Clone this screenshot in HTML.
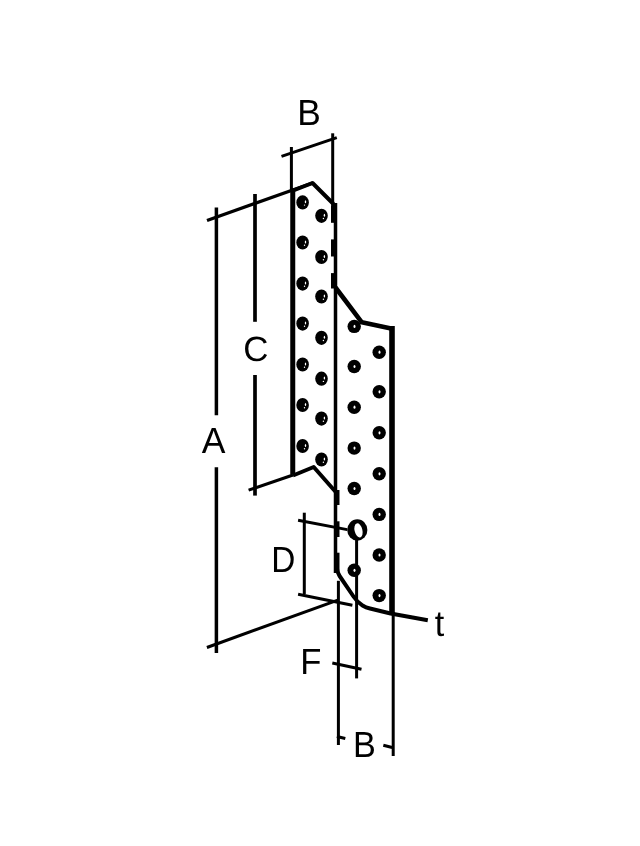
<!DOCTYPE html>
<html><head><meta charset="utf-8"><style>
html,body{margin:0;padding:0;background:#fff;}
svg{display:block;will-change:transform;}
text{font-family:"Liberation Sans",sans-serif;font-size:36.4px;fill:#000;text-rendering:geometricPrecision;}
</style></head><body>
<svg width="640" height="846" viewBox="0 0 640 846">
<rect width="640" height="846" fill="#fff"/>
<g stroke="#000" stroke-linecap="butt">
<line x1="281.5" y1="156.3" x2="336.8" y2="137.7" stroke-width="3"/>
<line x1="291.4" y1="147" x2="291.4" y2="192" stroke-width="3"/>
<line x1="332.7" y1="133.3" x2="332.7" y2="206" stroke-width="3"/>
<line x1="207" y1="220.5" x2="312.5" y2="183" stroke-width="3.3"/>
<line x1="216.4" y1="207.5" x2="216.4" y2="415.2" stroke-width="3.5"/>
<line x1="216.4" y1="467.2" x2="216.4" y2="653" stroke-width="3.5"/>
<line x1="255" y1="194" x2="255" y2="321.8" stroke-width="3.7"/>
<line x1="255" y1="375" x2="255" y2="495.6" stroke-width="3.7"/>
<line x1="248.6" y1="490.2" x2="293" y2="475" stroke-width="3"/>
<line x1="292.75" y1="188" x2="292.75" y2="474.4" stroke-width="5"/>
<polyline points="292,191 312.5,183 333.5,204" fill="none" stroke-width="4" stroke-linejoin="round"/>
<polyline points="293,475.5 313.7,467 335.3,491.5" fill="none" stroke-width="4" stroke-linejoin="round"/>
<line x1="335.5" y1="203" x2="335.5" y2="573" stroke-width="3.5"/>
<line x1="334" y1="205.5" x2="334" y2="222.8" stroke-width="6"/>
<line x1="334" y1="239.4" x2="334" y2="256.5" stroke-width="6"/>
<line x1="334" y1="273.1" x2="334" y2="288.5" stroke-width="6"/>
<line x1="337" y1="490" x2="337" y2="505" stroke-width="5"/>
<line x1="337" y1="521.3" x2="337" y2="537" stroke-width="5"/>
<line x1="337" y1="552.7" x2="337" y2="572.6" stroke-width="5"/>
<polyline points="335.5,287.5 361.8,322.3 393.4,329" fill="none" stroke-width="4.6" stroke-linejoin="round"/>
<line x1="392.0" y1="326" x2="392.0" y2="613" stroke-width="5.6"/>
<line x1="393.2" y1="612" x2="393.2" y2="756" stroke-width="3"/>
<path d="M336.8,560 L336.8,567 Q336.8,572 339.6,576 L353.5,596.5 Q357.5,602.5 362.5,605.5 Q366,607.6 370,608.5 L390.6,613.5 L427.8,620.3" fill="none" stroke-width="4" stroke-linejoin="round"/>
<line x1="304.3" y1="512.7" x2="304.3" y2="594.2" stroke-width="3"/>
<line x1="298.1" y1="520.2" x2="347.2" y2="529.6" stroke-width="3"/>
<line x1="298.1" y1="594.2" x2="352.4" y2="605.2" stroke-width="3"/>
<ellipse cx="357.3" cy="530" rx="10.1" ry="10.7" fill="#000" stroke="none"/><ellipse cx="358.5" cy="530.4" rx="3.9" ry="7.2" transform="rotate(-14 358.5 530.4)" fill="#fff" stroke="none"/>
<line x1="356.6" y1="538" x2="356.6" y2="678.4" stroke-width="3"/>
<line x1="338.4" y1="580.8" x2="338.4" y2="745" stroke-width="3"/>
<line x1="206.9" y1="647.5" x2="338.5" y2="599.8" stroke-width="3"/>
<line x1="332.3" y1="663" x2="361.5" y2="669.2" stroke-width="3"/>
<line x1="336.9" y1="736.5" x2="345.3" y2="738.5" stroke-width="3"/>
<line x1="383.3" y1="745.2" x2="392.2" y2="747.5" stroke-width="3"/>
<ellipse cx="302.6" cy="202.4" rx="6.3" ry="7.1" fill="#000" stroke="none"/>
<ellipse cx="305.5" cy="201.8" rx="0.7" ry="1.5" fill="#fff" stroke="none"/>
<circle cx="304.5" cy="205.1" r="0.7" fill="#fff" stroke="none"/>
<ellipse cx="302.6" cy="242.5" rx="6.3" ry="7.1" fill="#000" stroke="none"/>
<ellipse cx="305.5" cy="241.9" rx="0.7" ry="1.5" fill="#fff" stroke="none"/>
<circle cx="304.5" cy="245.2" r="0.7" fill="#fff" stroke="none"/>
<ellipse cx="302.6" cy="283.6" rx="6.3" ry="7.1" fill="#000" stroke="none"/>
<ellipse cx="305.5" cy="283.0" rx="0.7" ry="1.5" fill="#fff" stroke="none"/>
<circle cx="304.5" cy="286.3" r="0.7" fill="#fff" stroke="none"/>
<ellipse cx="302.6" cy="323.6" rx="6.3" ry="7.1" fill="#000" stroke="none"/>
<ellipse cx="305.5" cy="323.0" rx="0.7" ry="1.5" fill="#fff" stroke="none"/>
<circle cx="304.5" cy="326.3" r="0.7" fill="#fff" stroke="none"/>
<ellipse cx="302.6" cy="364.5" rx="6.3" ry="7.1" fill="#000" stroke="none"/>
<ellipse cx="305.5" cy="363.9" rx="0.7" ry="1.5" fill="#fff" stroke="none"/>
<circle cx="304.5" cy="367.2" r="0.7" fill="#fff" stroke="none"/>
<ellipse cx="302.6" cy="405" rx="6.3" ry="7.1" fill="#000" stroke="none"/>
<ellipse cx="305.5" cy="404.4" rx="0.7" ry="1.5" fill="#fff" stroke="none"/>
<circle cx="304.5" cy="407.7" r="0.7" fill="#fff" stroke="none"/>
<ellipse cx="302.6" cy="446" rx="6.3" ry="7.1" fill="#000" stroke="none"/>
<ellipse cx="305.5" cy="445.4" rx="0.7" ry="1.5" fill="#fff" stroke="none"/>
<circle cx="304.5" cy="448.7" r="0.7" fill="#fff" stroke="none"/>
<ellipse cx="321.5" cy="215.8" rx="6.3" ry="7.1" fill="#000" stroke="none"/>
<ellipse cx="324.4" cy="215.2" rx="0.7" ry="1.5" fill="#fff" stroke="none"/>
<circle cx="323.4" cy="218.5" r="0.7" fill="#fff" stroke="none"/>
<ellipse cx="321.5" cy="257" rx="6.3" ry="7.1" fill="#000" stroke="none"/>
<ellipse cx="324.4" cy="256.4" rx="0.7" ry="1.5" fill="#fff" stroke="none"/>
<circle cx="323.4" cy="259.7" r="0.7" fill="#fff" stroke="none"/>
<ellipse cx="321.5" cy="296.5" rx="6.3" ry="7.1" fill="#000" stroke="none"/>
<ellipse cx="324.4" cy="295.9" rx="0.7" ry="1.5" fill="#fff" stroke="none"/>
<circle cx="323.4" cy="299.2" r="0.7" fill="#fff" stroke="none"/>
<ellipse cx="321.5" cy="337.8" rx="6.3" ry="7.1" fill="#000" stroke="none"/>
<ellipse cx="324.4" cy="337.2" rx="0.7" ry="1.5" fill="#fff" stroke="none"/>
<circle cx="323.4" cy="340.5" r="0.7" fill="#fff" stroke="none"/>
<ellipse cx="321.5" cy="378.7" rx="6.3" ry="7.1" fill="#000" stroke="none"/>
<ellipse cx="324.4" cy="378.1" rx="0.7" ry="1.5" fill="#fff" stroke="none"/>
<circle cx="323.4" cy="381.4" r="0.7" fill="#fff" stroke="none"/>
<ellipse cx="321.5" cy="418.6" rx="6.3" ry="7.1" fill="#000" stroke="none"/>
<ellipse cx="324.4" cy="418.0" rx="0.7" ry="1.5" fill="#fff" stroke="none"/>
<circle cx="323.4" cy="421.3" r="0.7" fill="#fff" stroke="none"/>
<ellipse cx="321.5" cy="459.5" rx="6.3" ry="7.1" fill="#000" stroke="none"/>
<ellipse cx="324.4" cy="458.9" rx="0.7" ry="1.5" fill="#fff" stroke="none"/>
<circle cx="323.4" cy="462.2" r="0.7" fill="#fff" stroke="none"/>
<ellipse cx="354.2" cy="326.4" rx="6.7" ry="6.7" fill="#000" stroke="none"/>
<ellipse cx="354.5" cy="326.4" rx="1" ry="1.6" fill="#fff" stroke="none"/>
<ellipse cx="354.2" cy="366.5" rx="6.7" ry="6.7" fill="#000" stroke="none"/>
<ellipse cx="354.5" cy="366.5" rx="1" ry="1.6" fill="#fff" stroke="none"/>
<ellipse cx="354.2" cy="407.2" rx="6.7" ry="6.7" fill="#000" stroke="none"/>
<ellipse cx="354.5" cy="407.2" rx="1" ry="1.6" fill="#fff" stroke="none"/>
<ellipse cx="354.2" cy="448.1" rx="6.7" ry="6.7" fill="#000" stroke="none"/>
<ellipse cx="354.5" cy="448.1" rx="1" ry="1.6" fill="#fff" stroke="none"/>
<ellipse cx="354.2" cy="488.5" rx="6.7" ry="6.7" fill="#000" stroke="none"/>
<ellipse cx="354.5" cy="488.5" rx="1" ry="1.6" fill="#fff" stroke="none"/>
<ellipse cx="354.2" cy="570.3" rx="6.7" ry="6.7" fill="#000" stroke="none"/>
<ellipse cx="354.5" cy="570.3" rx="1" ry="1.6" fill="#fff" stroke="none"/>
<ellipse cx="379.2" cy="352.2" rx="6.7" ry="6.7" fill="#000" stroke="none"/>
<ellipse cx="379.5" cy="352.2" rx="1" ry="1.6" fill="#fff" stroke="none"/>
<ellipse cx="379.2" cy="391.8" rx="6.7" ry="6.7" fill="#000" stroke="none"/>
<ellipse cx="379.5" cy="391.8" rx="1" ry="1.6" fill="#fff" stroke="none"/>
<ellipse cx="379.2" cy="432.8" rx="6.7" ry="6.7" fill="#000" stroke="none"/>
<ellipse cx="379.5" cy="432.8" rx="1" ry="1.6" fill="#fff" stroke="none"/>
<ellipse cx="379.2" cy="473.8" rx="6.7" ry="6.7" fill="#000" stroke="none"/>
<ellipse cx="379.5" cy="473.8" rx="1" ry="1.6" fill="#fff" stroke="none"/>
<ellipse cx="379.2" cy="514.4" rx="6.7" ry="6.7" fill="#000" stroke="none"/>
<ellipse cx="379.5" cy="514.4" rx="1" ry="1.6" fill="#fff" stroke="none"/>
<ellipse cx="379.2" cy="555" rx="6.7" ry="6.7" fill="#000" stroke="none"/>
<ellipse cx="379.5" cy="555" rx="1" ry="1.6" fill="#fff" stroke="none"/>
<ellipse cx="379.2" cy="595.6" rx="6.7" ry="6.7" fill="#000" stroke="none"/>
<ellipse cx="379.5" cy="595.6" rx="1" ry="1.6" fill="#fff" stroke="none"/>
</g>
<text transform="translate(297.35,125.0) scale(0.97,1)">B</text>
<text transform="translate(243.23,361.0) scale(0.957,0.965)">C</text>
<text transform="translate(201.76,453.0) scale(0.977,1)">A</text>
<text transform="translate(271.29,571.6) scale(0.917,1)">D</text>
<text transform="translate(434.74,635.6) scale(0.939,1)">t</text>
<text transform="translate(300.14,673.75) scale(0.952,1)">F</text>
<text transform="translate(352.88,757.0) scale(0.939,1)">B</text>
</svg>
</body></html>
